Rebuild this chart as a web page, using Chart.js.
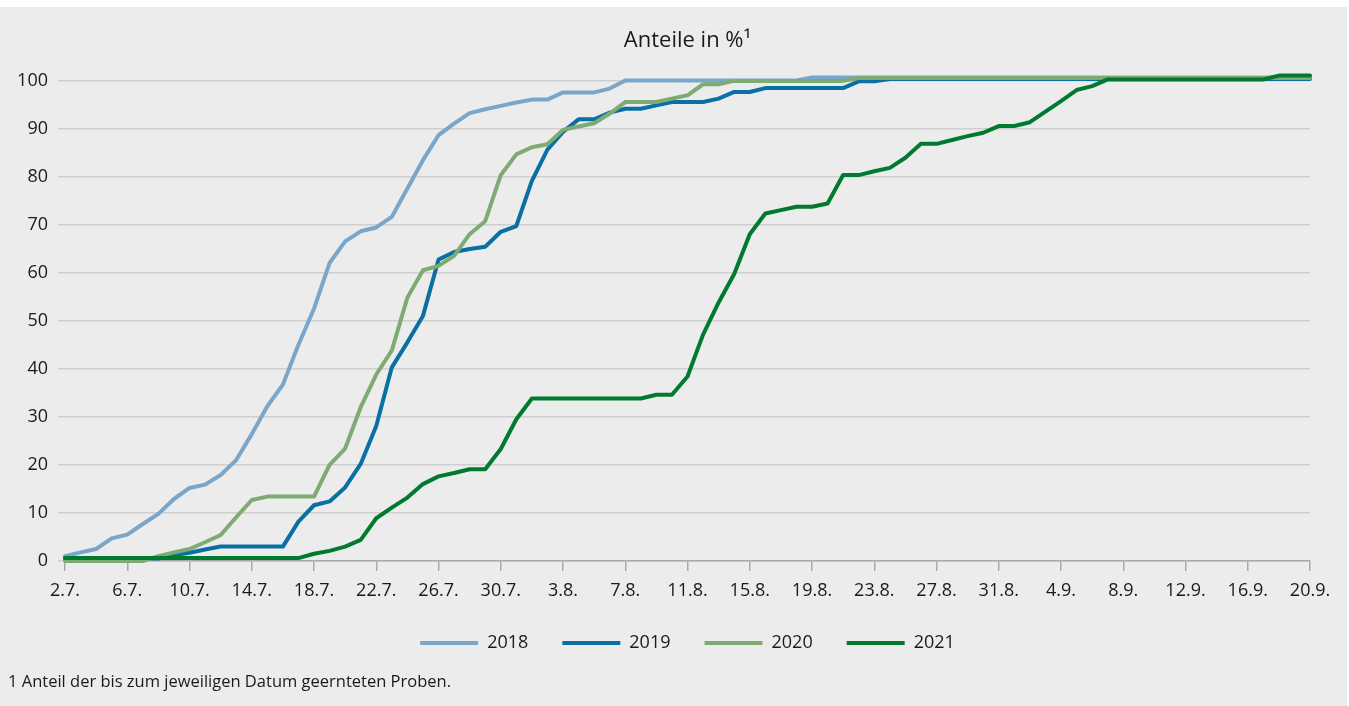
<!DOCTYPE html>
<html lang="de">
<head>
<meta charset="utf-8">
<title>Anteile in %</title>
<script src="https://cdn.jsdelivr.net/npm/chart.js@4.4.1/dist/chart.umd.min.js"></script>
<style>
  html, body { margin: 0; padding: 0; background: #ffffff; width: 1349px; height: 706px; overflow: hidden; }
  #wrap { position: absolute; left: 0; top: 7px; width: 1347px; height: 699px; background: #ececec; }
  #c { position: absolute; left: 0; top: 0; }
  #note { position: absolute; left: 8px; top: 664px; font-family: "Open Sans", sans-serif; font-size: 16.5px; line-height: 20px; color: #1a1a1a; white-space: nowrap; }
</style>
</head>
<body>
<div id="wrap">
  <canvas id="c" width="1347" height="699"></canvas>
  <div id="note">1 Anteil der bis zum jeweiligen Datum geernteten Proben.</div>
</div>
<script>
// Categories: one per day, 2 July to 20 September
const dates = [
  "2.7.","3.7.","4.7.","5.7.","6.7.","7.7.","8.7.","9.7.","10.7.","11.7.",
  "12.7.","13.7.","14.7.","15.7.","16.7.","17.7.","18.7.","19.7.","20.7.","21.7.",
  "22.7.","23.7.","24.7.","25.7.","26.7.","27.7.","28.7.","29.7.","30.7.","31.7.",
  "1.8.","2.8.","3.8.","4.8.","5.8.","6.8.","7.8.","8.8.","9.8.","10.8.",
  "11.8.","12.8.","13.8.","14.8.","15.8.","16.8.","17.8.","18.8.","19.8.","20.8.",
  "21.8.","22.8.","23.8.","24.8.","25.8.","26.8.","27.8.","28.8.","29.8.","30.8.",
  "31.8.","1.9.","2.9.","3.9.","4.9.","5.9.","6.9.","7.9.","8.9.","9.9.",
  "10.9.","11.9.","12.9.","13.9.","14.9.","15.9.","16.9.","17.9.","18.9.","19.9.",
  "20.9."
];
const tickEvery = 4;
const yTicks = [0,10,20,30,40,50,60,70,80,90,100];

const seriesNames = ["2018","2019","2020","2021"];
const seriesColors = ["#7aa6ca","#0a6fa3","#7dab72","#007a2e"];

const v2018 = [
  1.0,1.8,2.5,4.7,5.5,7.7,9.8,12.9,15.2,15.9,
  17.9,21.0,26.4,32.2,36.7,45.0,52.5,62.0,66.5,68.6,
  69.4,71.6,77.5,83.4,88.6,91.0,93.2,94.0,94.7,95.4,
  96.0,96.0,97.5,97.5,97.5,98.3,100.0,100.0,100.0,100.0,
  100.0,100.0,100.0,100.0,100.0,100.0,100.0,100.0,100.6,100.6,
  100.6,100.6,100.6,100.6,100.6,100.6,100.6,100.6,100.6,100.6,
  100.6,100.6,100.6,100.6,100.6,100.6,100.6,100.6,100.6,100.6,
  100.6,100.6,100.6,100.6,100.6,100.6,100.6,100.6,100.6,100.6,
  100.6
];
const v2019 = [
  0.5,0.5,0.5,0.5,0.5,0.5,0.5,1.2,1.7,2.4,
  3.0,3.0,3.0,3.0,3.0,8.2,11.6,12.4,15.3,20.2,
  28.1,40.3,45.5,51.0,62.7,64.3,64.9,65.4,68.5,69.7,
  79.1,85.6,89.3,91.9,91.9,93.3,94.1,94.1,94.8,95.5,
  95.5,95.5,96.2,97.6,97.6,98.4,98.4,98.4,98.4,98.4,
  98.4,99.8,99.8,100.3,100.3,100.3,100.3,100.3,100.3,100.3,
  100.3,100.3,100.3,100.3,100.3,100.3,100.3,100.3,100.3,100.3,
  100.3,100.3,100.3,100.3,100.3,100.3,100.3,100.3,100.3,100.3,
  100.3
];
const v2020 = [
  0.0,0.0,0.0,0.0,0.0,0.0,1.0,1.8,2.5,3.9,
  5.4,9.1,12.7,13.4,13.4,13.4,13.4,20.0,23.4,32.0,
  38.8,43.8,54.8,60.5,61.4,63.5,68.0,70.7,80.3,84.6,
  86.1,86.7,89.7,90.4,91.1,93.1,95.5,95.5,95.5,96.2,
  96.9,99.2,99.2,99.9,99.9,99.9,99.9,99.9,99.9,99.9,
  99.9,100.5,100.5,100.5,100.5,100.5,100.5,100.5,100.5,100.5,
  100.5,100.5,100.5,100.5,100.5,100.5,100.5,100.5,100.5,100.5,
  100.5,100.5,100.5,100.5,100.5,100.5,100.5,100.5,100.5,100.5,
  100.5
];
const v2021 = [
  0.6,0.6,0.6,0.6,0.6,0.6,0.6,0.6,0.6,0.6,
  0.6,0.6,0.6,0.6,0.6,0.6,1.5,2.1,3.0,4.4,
  8.9,11.1,13.2,16.0,17.6,18.3,19.1,19.1,23.3,29.5,
  33.8,33.8,33.8,33.8,33.8,33.8,33.8,33.8,34.6,34.6,
  38.4,47.1,53.8,59.7,68.0,72.3,73.0,73.7,73.7,74.4,
  80.3,80.3,81.1,81.8,83.9,86.8,86.8,87.6,88.4,89.1,
  90.5,90.5,91.3,93.5,95.7,98.0,98.8,100.2,100.2,100.2,
  100.2,100.2,100.2,100.2,100.2,100.2,100.2,100.2,101.0,101.0,
  101.0
];
const seriesValues = [v2018, v2019, v2020, v2021];

const FONT = "'Open Sans', 'Noto Sans', sans-serif";
const TXT = "#1a1a1a";

const datasets = seriesNames.map((name, k) => ({
  label: name,
  data: seriesValues[k],
  borderColor: seriesColors[k],
  backgroundColor: seriesColors[k],
  borderWidth: 4,
  pointRadius: 0,
  pointHoverRadius: 0,
  tension: 0,
  borderJoinStyle: "round",
  borderCapStyle: "round",
  clip: false,
  order: seriesNames.length - k
}));

new Chart(document.getElementById("c"), {
  type: "line",
  data: { labels: dates, datasets },
  options: {
    responsive: false,
    animation: false,
    events: [],
    layout: { padding: { left: 0, right: 37, top: 0, bottom: 44 } },
    scales: {
      x: {
        type: "category",
        offset: false,
        afterFit: s => { s.height = 39; },
        border: { display: true, color: "#a9a9a9", width: 1.5 },
        grid: { display: true, drawOnChartArea: false, drawTicks: true, tickLength: 10, color: "#a9a9a9", lineWidth: 1.5 },
        ticks: {
          autoSkip: false, maxRotation: 0, minRotation: 0, padding: 9,
          color: TXT, font: { family: FONT, size: 18 },
          callback: function (val, idx) { return idx % tickEvery === 0 ? dates[idx] : null; }
        }
      },
      y: {
        min: yTicks[0], max: yTicks[yTicks.length - 1],
        afterFit: s => { s.width = 65; },
        afterBuildTicks: s => { s.ticks = yTicks.map(v => ({ value: v })); },
        border: { display: false },
        grid: { color: "#cfcfcf", lineWidth: 1.5, drawTicks: true, tickLength: 7 },
        ticks: { padding: 10, color: TXT, font: { family: FONT, size: 18 } }
      }
    },
    plugins: {
      title: {
        display: true, text: "Anteile in %\u00B9", fullSize: false,
        color: TXT, font: { family: FONT, size: 22, weight: "normal" },
        padding: { top: 21, bottom: 26 }
      },
      legend: {
        display: true, position: "bottom", fullSize: false,
        labels: {
          boxWidth: 58, boxHeight: 4, padding: 34, color: TXT,
          font: { family: FONT, size: 18 },
          sort: (a, b) => a.datasetIndex - b.datasetIndex,
          generateLabels: chart => Chart.defaults.plugins.legend.labels.generateLabels(chart).map(l => Object.assign(l, { lineWidth: 0 }))
        }
      },
      tooltip: { enabled: false }
    }
  }
});
</script>
</body>
</html>
